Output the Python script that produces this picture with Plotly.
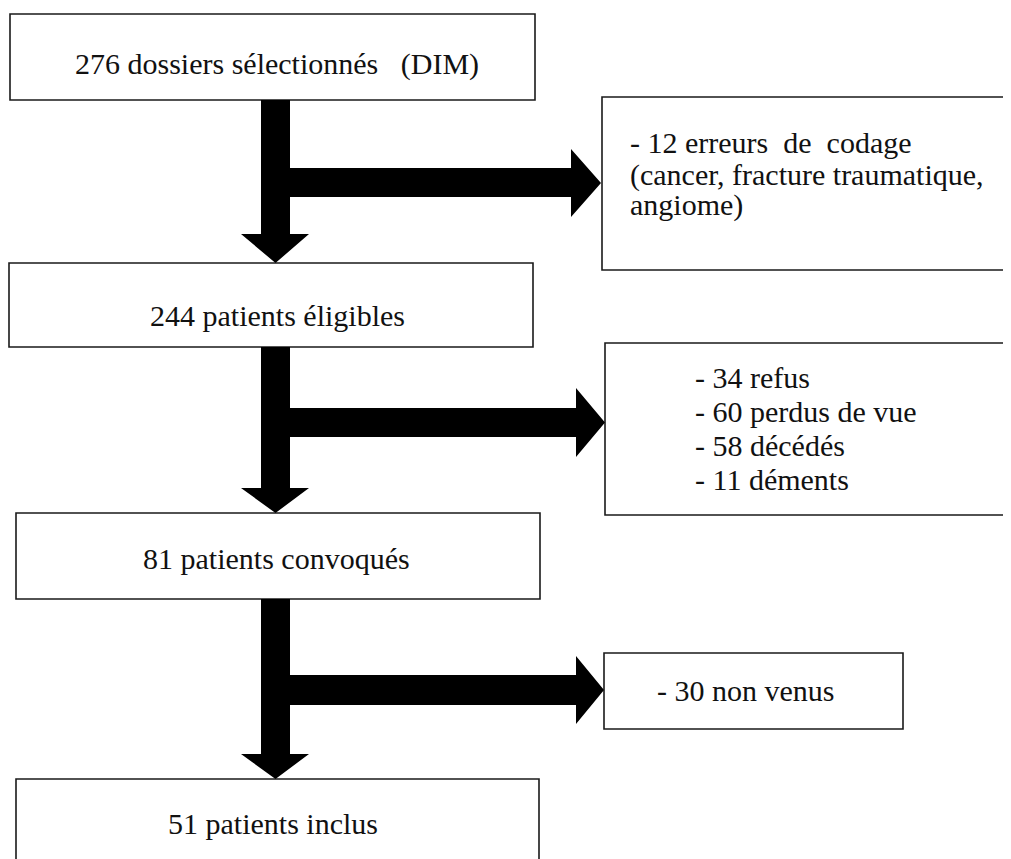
import plotly.graph_objects as go

# ---- data ----
main_counts = [276, 244, 81, 51]
main_labels = ["dossiers sélectionnés   (DIM)", "patients éligibles",
               "patients convoqués", "patients inclus"]
excl1_count = 12
excl1_lines = ["erreurs  de  codage", "(cancer, fracture traumatique,", "angiome)"]
excl2_counts = [34, 60, 58, 11]
excl2_labels = ["refus", "perdus de vue", "décédés", "déments"]
excl3_counts = [30]
excl3_labels = ["non venus"]

# ---- layout geometry (page pixels) ----
W, H = 1011, 859
OFF = 8  # page body margin compensation
FONT = "Liberation Serif"
FS = 30

main_boxes = [(10, 14, 535, 100), (9, 263, 533, 347), (16, 513, 540, 599), (16, 779, 539, 880)]
main_text = [(73, 64), (148, 315), (141, 558), (166, 823)]
right_boxes = [(602, 97, 1009, 270), (605, 343, 1009, 515), (604, 653, 903, 729)]

stem_x = (261, 290)
head_x = (241, 309)
# (stem top, head base, tip) for vertical arrows
vert = [(100, 234, 263), (347, 488, 513), (599, 754, 779)]
# (bar top, bar bottom, head base x, tip x, head top, head bottom)
horiz = [(168, 197, 571, 601, 149, 217), (408, 437, 576, 605, 388, 457), (675, 705, 576, 604, 656, 724)]

shapes = []
for (x0, y0, x1, y1) in main_boxes + right_boxes:
    shapes.append(dict(type="rect", xref="x", yref="y", x0=x0, y0=y0, x1=x1, y1=y1,
                       line=dict(color="#1a1a1a", width=1.6), fillcolor="white", layer="below"))

for (t, b, tip), (bt, bb, hb, tx, ht, hbot) in zip(vert, horiz):
    sx0, sx1 = stem_x
    hx0, hx1 = head_x
    cx = (sx0 + sx1) / 2
    p = (f"M{sx0},{t} L{sx1},{t} L{sx1},{b} L{hx1},{b} L{cx},{tip} L{hx0},{b} L{sx0},{b} Z")
    shapes.append(dict(type="path", xref="x", yref="y", path=p, fillcolor="black",
                       line=dict(width=0)))
    cy = (ht + hbot) / 2
    p2 = (f"M{sx1 - 1},{bt} L{hb},{bt} L{hb},{ht} L{tx},{cy} L{hb},{hbot} "
          f"L{hb},{bb} L{sx1 - 1},{bb} Z")
    shapes.append(dict(type="path", xref="x", yref="y", path=p2, fillcolor="black",
                       line=dict(width=0)))

ann = []
def add_text(x, y, txt):
    ann.append(dict(x=x, y=y, xref="x", yref="y", text=txt, showarrow=False,
                    xanchor="left", yanchor="middle",
                    font=dict(family=FONT, size=FS, color="#111")))

for (tx, ty), c, lab in zip(main_text, main_counts, main_labels):
    add_text(tx, ty, f"{c} {lab}")

# exclusion box 1
r1_lines = [f"- {excl1_count} {excl1_lines[0]}"] + excl1_lines[1:]
for y, line in zip([142, 175, 205], r1_lines):
    add_text(628, y, line)

# exclusion box 2
for y, c, lab in zip([377, 411, 445, 479], excl2_counts, excl2_labels):
    add_text(693, y, f"- {c} {lab}")

# exclusion box 3
for c, lab in zip(excl3_counts, excl3_labels):
    add_text(655, 690, f"- {c} {lab}")

fig = go.Figure()
fig.update_layout(
    width=W, height=H, margin=dict(l=0, r=0, t=0, b=0),
    plot_bgcolor="white",
    xaxis=dict(range=[OFF, W + OFF], visible=False),
    yaxis=dict(range=[H + OFF, OFF], visible=False),
    shapes=shapes, annotations=ann,
)
fig.write_html("out.html")
